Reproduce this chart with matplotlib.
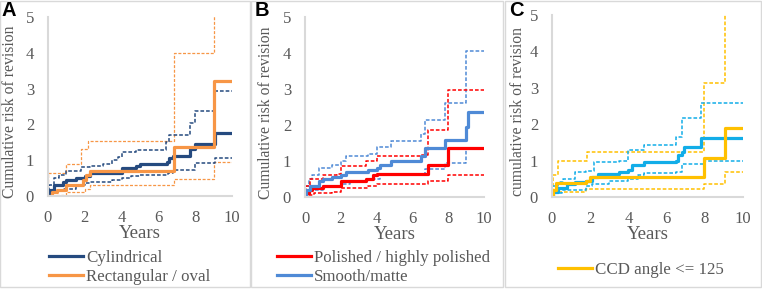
import matplotlib
matplotlib.use("Agg")
import matplotlib.pyplot as plt
from matplotlib.patches import Rectangle

# ---- data (years, cumulative risk of revision %) ----
# Panel A
a_cyl_t = [0, 0.05, 0.3, 0.8, 1.0, 1.5, 2.0, 2.3, 4.0, 4.8, 5.0, 6.45, 6.6, 6.8, 7.7, 8.0, 9.1, 10]
a_cyl = [0, 0.18, 0.3, 0.38, 0.45, 0.5, 0.57, 0.63, 0.79, 0.85, 0.88, 0.96, 1.05, 1.12, 1.3, 1.46, 1.77, 1.77]
a_cyl_hi_t = [0, 0.05, 0.3, 0.6, 1.0, 1.8, 2.3, 3.0, 3.5, 3.8, 4.0, 4.8, 6.4, 6.6, 7.7, 8.0, 9.05, 10]
a_cyl_hi = [0, 0.3, 0.5, 0.6, 0.7, 0.8, 0.85, 0.9, 1.0, 1.1, 1.22, 1.29, 1.52, 1.69, 2.03, 2.37, 2.94, 2.94]
a_cyl_lo_t = [0, 0.05, 0.3, 0.8, 1.5, 2.0, 2.3, 3.5, 4.0, 4.5, 5.0, 6.5, 6.8, 8.0, 9.1, 10]
a_cyl_lo = [0, 0.1, 0.15, 0.2, 0.3, 0.35, 0.4, 0.45, 0.5, 0.55, 0.6, 0.63, 0.73, 0.92, 1.07, 1.07]
a_rect_t = [0, 0.2, 0.5, 1.0, 1.9, 2.05, 2.3, 6.85, 9.0, 10]
a_rect = [0, 0.1, 0.18, 0.3, 0.45, 0.6, 0.7, 1.38, 3.21, 3.21]
a_rect_hi_t = [0, 0.02, 1.0, 1.8, 2.2, 6.85, 9.0, 10]
a_rect_hi = [0, 0.64, 0.9, 1.3, 1.55, 4.0, 6.0, 6.0]
a_rect_lo_t = [0, 0.5, 1.0, 2.0, 2.3, 6.85, 9.0, 10]
a_rect_lo = [0, 0.04, 0.1, 0.2, 0.31, 0.48, 0.96, 0.96]

# Panel B
b_pol_t = [0, 0.05, 0.2, 0.4, 1.0, 2.0, 3.4, 3.8, 4.0, 6.85, 8.0, 10]
b_pol = [0, 0.1, 0.2, 0.25, 0.3, 0.45, 0.5, 0.6, 0.65, 0.9, 1.35, 1.35]
b_pol_hi_t = [0, 0.05, 0.3, 1.0, 1.8, 2.0, 3.4, 4.0, 6.5, 6.85, 8.0, 10]
b_pol_hi = [0, 0.3, 0.5, 0.6, 0.65, 0.85, 1.0, 1.15, 1.18, 1.87, 2.97, 2.97]
b_pol_lo_t = [0, 0.1, 0.5, 1.5, 2.0, 3.5, 4.0, 6.85, 8.0, 10]
b_pol_lo = [0, 0.05, 0.1, 0.15, 0.25, 0.3, 0.35, 0.44, 0.62, 0.62]
b_smo_t = [0, 0.05, 0.3, 0.8, 1.0, 1.5, 2.0, 2.3, 3.5, 4.0, 4.2, 4.8, 6.5, 6.7, 7.8, 9.0, 9.1, 10]
b_smo = [0, 0.2, 0.3, 0.45, 0.5, 0.55, 0.6, 0.7, 0.75, 0.8, 0.9, 1.0, 1.15, 1.35, 1.58, 1.95, 2.35, 2.35]
b_smo_hi_t = [0, 0.05, 0.2, 0.4, 0.8, 1.5, 2.0, 2.3, 3.5, 4.0, 4.8, 6.5, 6.7, 7.8, 9.0, 10]
b_smo_hi = [0, 0.3, 0.5, 0.6, 0.8, 0.9, 1.0, 1.15, 1.2, 1.4, 1.55, 1.75, 2.15, 2.6, 4.05, 4.05]
b_smo_lo_t = [0, 0.05, 0.3, 1.0, 2.0, 2.5, 3.5, 4.2, 4.8, 6.7, 7.8, 9.0, 10]
b_smo_lo = [0, 0.1, 0.2, 0.3, 0.35, 0.45, 0.5, 0.6, 0.65, 0.79, 0.95, 1.35, 1.35]

# Panel C
c_blu_t = [0, 0.05, 0.3, 0.8, 1.2, 1.8, 2.1, 2.4, 3.5, 4.0, 4.2, 4.8, 6.5, 6.6, 6.8, 6.9, 7.8, 10]
c_blu = [0, 0.15, 0.25, 0.35, 0.4, 0.45, 0.55, 0.64, 0.7, 0.75, 0.88, 0.95, 1.0, 1.15, 1.25, 1.38, 1.62, 1.62]
c_blu_hi_t = [0, 0.02, 0.3, 0.6, 1.2, 1.8, 2.2, 3.5, 4.0, 4.8, 6.4, 6.5, 6.8, 7.8, 10]
c_blu_hi = [0, 0.3, 0.4, 0.5, 0.7, 0.72, 0.95, 1.0, 1.28, 1.42, 1.42, 1.66, 2.17, 2.58, 2.58]
c_blu_lo_t = [0, 0.05, 0.5, 1.8, 2.1, 3.0, 4.0, 4.5, 4.8, 6.5, 6.8, 8.0, 10]
c_blu_lo = [0, 0.1, 0.2, 0.3, 0.35, 0.45, 0.5, 0.6, 0.66, 0.7, 0.9, 1.0, 1.0]
c_ccd_t = [0, 0.05, 0.2, 1.8, 2.0, 7.95, 9.05, 10]
c_ccd = [0, 0.2, 0.38, 0.45, 0.55, 1.07, 1.89, 1.89]
c_ccd_hi_t = [0, 0.05, 0.3, 1.85, 7.95, 9.05, 10]
c_ccd_hi = [0, 0.6, 1.0, 1.25, 3.14, 6.0, 6.0]
c_ccd_lo_t = [0, 0.1, 0.3, 1.8, 7.95, 9.05, 10]
c_ccd_lo = [0, 0.1, 0.15, 0.22, 0.37, 0.68, 0.68]

x_ticks = [0, 2, 4, 6, 8, 10]
y_ticks = [0, 1, 2, 3, 4, 5]

GREY = "#595959"
SERIF = "Liberation Serif"

fig = plt.figure(figsize=(7.62, 2.89), dpi=100)

# panel frames
for x0, x1 in [(0, 250), (251, 503), (505, 761)]:
    fig.add_artist(Rectangle((x0 / 762, 2 / 289), (x1 - x0) / 762, 286 / 289,
                             transform=fig.transFigure, fill=False,
                             edgecolor="#D9D9D9", lw=1.0))

axes_px = [(48, 232, 196, 17), (305, 484, 197, 17), (552, 743, 197, 15)]
axs = []
for l, r, b, t in axes_px:
    ax = fig.add_axes([l / 762, (289 - b) / 289, (r - l) / 762, (b - t) / 289])
    axs.append(ax)


def style(ax, ylabel, ylab_x):
    ax.set_xlim(0, 10)
    ax.set_ylim(0, 5)
    ax.set_xticks(x_ticks)
    ax.set_yticks(y_ticks)
    for s in ["top", "right"]:
        ax.spines[s].set_visible(False)
    for s in ["left", "bottom"]:
        ax.spines[s].set_color("#D9D9D9")
        ax.spines[s].set_linewidth(1.5)
    ax.tick_params(length=0, labelcolor=GREY, labelsize=12)
    ax.tick_params(axis="y", pad=10)
    ax.tick_params(axis="x", pad=10)
    for lab in ax.get_xticklabels() + ax.get_yticklabels():
        lab.set_family(SERIF)
    ax.set_xlabel("Years", family=SERIF, fontsize=13.5, color=GREY)
    ax.xaxis.set_label_coords(0.5, -0.16)
    ax.set_ylabel(ylabel, family=SERIF, fontsize=11.3, color=GREY)
    ax.yaxis.set_label_coords(ylab_x, 0.47)
    ax.patch.set_alpha(0)


def km(ax, t, v, color, lw=2.3, ls="-", label=None):
    return ax.step(t, v, where="post", color=color, lw=lw, ls=ls,
                   label=label, clip_on=True)[0]


dash = (0, (2.4, 1.3))

# A
ax = axs[0]
navy, orange = "#254A7F", "#F79646"
km(ax, a_rect_hi_t, a_rect_hi, orange, lw=0.9, ls=dash)
km(ax, a_rect_lo_t, a_rect_lo, orange, lw=0.9, ls=dash)
km(ax, a_cyl_hi_t, a_cyl_hi, navy, lw=1.1, ls=dash)
km(ax, a_cyl_lo_t, a_cyl_lo, navy, lw=1.1, ls=dash)
h1 = km(ax, a_cyl_t, a_cyl, navy, label="Cylindrical")
h2 = km(ax, a_rect_t, a_rect, orange, label="Rectangular / oval")
style(ax, "Cumulative risk of revision", -0.165)

# B
ax = axs[1]
red, blue = "#FF0000", "#4F8AD6"
km(ax, b_smo_hi_t, b_smo_hi, blue, lw=1.1, ls=dash)
km(ax, b_smo_lo_t, b_smo_lo, blue, lw=1.1, ls=dash)
km(ax, b_pol_hi_t, b_pol_hi, red, lw=1.1, ls=dash)
km(ax, b_pol_lo_t, b_pol_lo, red, lw=1.1, ls=dash)
h3 = km(ax, b_pol_t, b_pol, red, label="Polished / highly polished")
h4 = km(ax, b_smo_t, b_smo, blue, label="Smooth/matte")
style(ax, "Cumulative risk of revision", -0.175)

# C
ax = axs[2]
cyan, gold = "#12ADE8", "#FFC000"
km(ax, c_ccd_hi_t, c_ccd_hi, gold, lw=1.1, ls=dash)
km(ax, c_ccd_lo_t, c_ccd_lo, gold, lw=1.1, ls=dash)
km(ax, c_blu_hi_t, c_blu_hi, cyan, lw=1.1, ls=dash)
km(ax, c_blu_lo_t, c_blu_lo, cyan, lw=1.1, ls=dash)
km(ax, c_blu_t, c_blu, cyan)
h5 = km(ax, c_ccd_t, c_ccd, gold, label="CCD angle <= 125")
style(ax, "cumulative risk of revision", -0.138)

# legends
leg_kw = dict(frameon=False, handlelength=2.0, handletextpad=0.2,
              labelspacing=0.18, borderpad=0, borderaxespad=0,
              prop={"family": SERIF, "size": 12.2},
              bbox_transform=fig.transFigure, loc="upper left")
for ax, hs, (x, y) in [(axs[0], [h1, h2], (49, 250)),
                       (axs[1], [h3, h4], (277, 250)),
                       (axs[2], [h5], (558, 262))]:
    leg = ax.legend(handles=hs, bbox_to_anchor=(x / 762, 1 - y / 289), **leg_kw)
    for txt in leg.get_texts():
        txt.set_color(GREY)

# panel letters
for lab, x in [("A", 2), ("B", 255), ("C", 509)]:
    fig.text(x / 762, 1 - 1 / 289, lab, fontsize=14.5, fontweight="bold",
             family="Liberation Sans", va="top", ha="left")

fig.savefig("out.png", dpi=100)
